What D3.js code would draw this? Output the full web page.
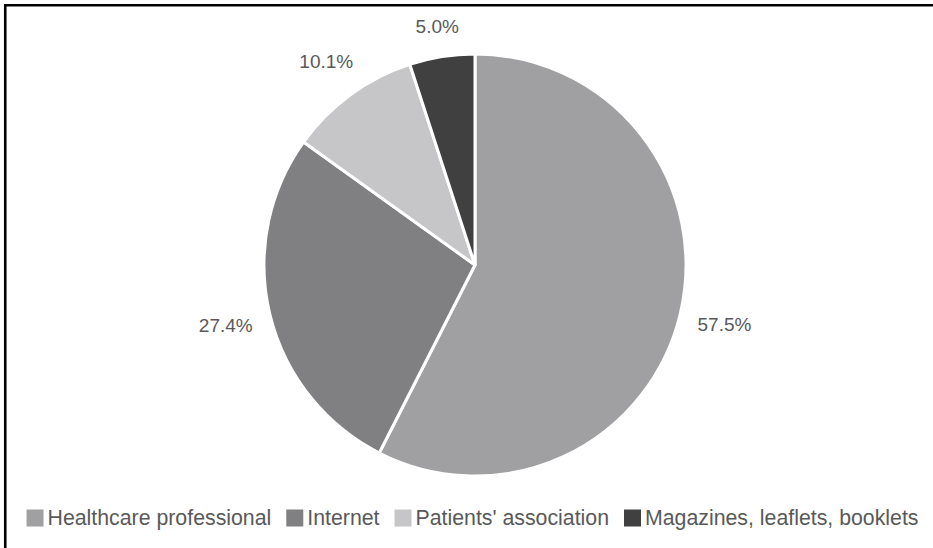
<!DOCTYPE html>
<html>
<head>
<meta charset="utf-8">
<script src="https://cdn.jsdelivr.net/npm/d3@7"></script>
<style>
  html, body { margin: 0; padding: 0; background: #fff; }
  svg { display: block; font-family: "Liberation Sans", Arial, sans-serif; }
</style>
</head>
<body>
<svg id="chart"></svg>
<script>
// Sources of information, share of respondents (%)
const categories = ["Healthcare professional", "Internet", "Patients' association", "Magazines, leaflets, booklets"];
const values = [57.5, 27.4, 10.1, 5.0];
const labels = ["57.5%", "27.4%", "10.1%", "5.0%"];
const colors = ["#a0a0a2", "#808082", "#c6c6c8", "#404040"];

const width = 933, height = 548;
const cx = 475, cy = 265, radius = 211;
const textColor = "#595959";

const svg = d3.select("#chart")
  .attr("width", width)
  .attr("height", height);

// frame: only top and left edges are visible
svg.append("path")
  .attr("d", `M5.25,${height} V5.25 H${width}`)
  .attr("fill", "none")
  .attr("stroke", "#000")
  .attr("stroke-width", 2.6);

const pie = d3.pie().sort(null).value(d => d)(values);
const arc = d3.arc().innerRadius(0).outerRadius(radius);

const g = svg.append("g").attr("transform", `translate(${cx},${cy})`);

g.selectAll("path.slice")
  .data(pie)
  .enter().append("path")
  .attr("class", "slice")
  .attr("d", arc)
  .attr("fill", (d, i) => colors[i])
  .attr("stroke", "#fff")
  .attr("stroke-width", 3)
  .attr("stroke-linejoin", "round");

// labels outside the slice ends
const labelGap = 228;
g.selectAll("text.lbl")
  .data(pie)
  .enter().append("text")
  .attr("class", "lbl")
  .attr("font-size", 19)
  .attr("fill", textColor)
  .attr("text-anchor", "middle")
  .attr("dominant-baseline", "central")
  .text((d, i) => labels[i])
  .each(function(d) {
    const a = (d.startAngle + d.endAngle) / 2;
    const s = Math.sin(a), c = Math.cos(a);
    const w = this.getComputedTextLength(), h = 20;
    const r = labelGap + Math.abs(w / 2 * s) + Math.abs(h / 2 * c);
    d3.select(this).attr("x", r * s).attr("y", -r * c);
  });

// legend
const legend = svg.append("g");
const sw = 17, swGap = 4, itemGap = 15;
let x = 0;
categories.forEach((name, i) => {
  const item = legend.append("g").attr("transform", `translate(${x},0)`);
  item.append("rect")
    .attr("x", 0).attr("y", -sw / 2)
    .attr("width", sw).attr("height", sw)
    .attr("fill", colors[i]);
  const t = item.append("text")
    .attr("x", sw + swGap)
    .attr("y", 0)
    .attr("dominant-baseline", "central")
    .attr("font-size", 21.3)
    .attr("fill", textColor)
    .text(name);
  x += sw + swGap + t.node().getComputedTextLength() + itemGap;
});
const legendW = x - itemGap;
legend.attr("transform", `translate(${(25 + 920) / 2 - legendW / 2},518)`);
</script>
</body>
</html>
